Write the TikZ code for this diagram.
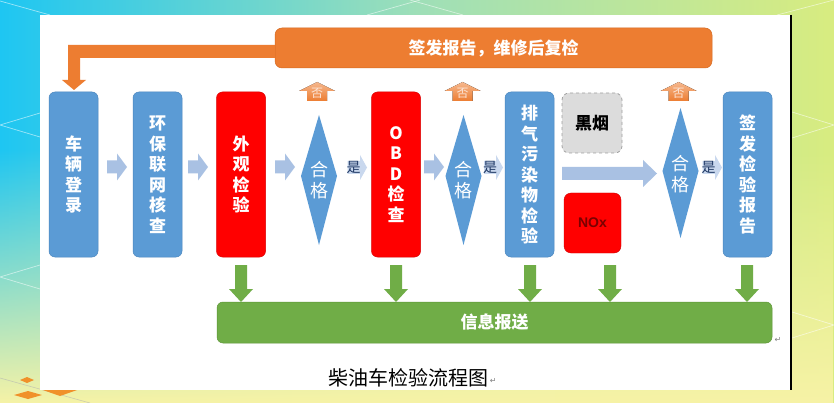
\documentclass[tikz,border=0pt]{standalone}
\usepackage{fontspec}
\setmainfont{Noto Sans CJK SC}
\newfontfamily\dejavu{DejaVu Sans}
\newfontfamily\arialf{Liberation Sans}
\usetikzlibrary{shapes.geometric,shapes.arrows,fadings,calc}
\definecolor{obl}{HTML}{5B9BD5}
\definecolor{oblb}{HTML}{4A86BE}
\definecolor{ored}{HTML}{FF0000}
\definecolor{oor}{HTML}{ED7D31}
\definecolor{oorb}{HTML}{D46A22}
\definecolor{ogr}{HTML}{70AD47}
\definecolor{ogrb}{HTML}{5E9638}
\definecolor{lbl}{HTML}{A9C1E3}
\definecolor{lbl2}{HTML}{C9D8EE}
\definecolor{navy}{HTML}{1F3864}
\definecolor{bgcyan}{HTML}{1EC6F2}
\definecolor{bgmid}{HTML}{9EDFB8}
\definecolor{bgyg}{HTML}{D8EC80}
\definecolor{bgyel}{HTML}{F7F3A6}
\definecolor{smokefill}{HTML}{DCDCDC}
\definecolor{smokeline}{HTML}{A0A0A0}
\definecolor{noxtext}{HTML}{7A0000}
\definecolor{notext}{HTML}{FCE4D6}
\newcommand\fatarr[3]{% x1 x2 y
  \fill[lbl] (#1,#3-6.5) -- (#2-10,#3-6.5) -- (#2-10,#3-13.5) -- (#2,#3)
    -- (#2-10,#3+13.5) -- (#2-10,#3+6.5) -- (#1,#3+6.5) -- cycle;}
\newcommand\downarr[1]{% x
  \fill[ogr] (#1-6,265) -- (#1+6,265) -- (#1+6,289) -- (#1+12,289) -- (#1,302)
    -- (#1-12,289) -- (#1-6,289) -- cycle;}
\newcommand\noarr[2]{% x name
  \fill[top color=oor!55!white, bottom color=oor] (#1-18,91) -- (#1,82) -- (#1+18,91)
    -- (#1+10,91) -- (#1+10,101) -- (#1-10,101) -- (#1-10,91) -- cycle;
  \node[text=notext, font=\fontsize{12}{12}\selectfont, inner sep=0pt] (#2) at (#1,93.5) {否};}
\newcommand\yesarr[3]{% xtext xtip name
  \fill[lbl2] (#1-6,161) -- (#2-7,161) -- (#2-7,155) -- (#2,167.5) -- (#2-7,180)
    -- (#2-7,174) -- (#1-6,174) -- cycle;
  \node[text=navy, font=\fontsize{14}{14}\selectfont, inner sep=0pt] (#3) at (#1,167.5) {是};}
\newcommand\diam[6]{% x top mid bottom textY name
  \fill[obl] (#1,#2) -- (#1+18,#3) -- (#1,#4) -- (#1-18,#3) -- cycle;
  \node[diatext] (#6) at (#1,#5) {合\\格};}
\tikzset{
  box/.style={rounded corners=6pt, minimum width=49pt, minimum height=165pt,
    inner sep=0pt, align=center, text=white,
    font=\bfseries\fontsize{17}{20.5}\selectfont},
  bluebox/.style={box, fill=obl, draw=oblb, line width=0.5pt},
  redbox/.style={box, fill=ored, draw=ored!85!black, line width=0.5pt},
  diatext/.style={inner sep=0pt, text=white, align=center,
    font=\fontsize{18}{21}\selectfont},
  smoke/.style={rounded corners=7pt, fill=smokefill, draw=smokeline, dashed,
    line width=0.8pt, minimum width=60pt, minimum height=60pt, inner sep=0pt,
    text=black, font=\bfseries\fontsize{17}{17}\selectfont},
  noxbox/.style={rounded corners=7pt, fill=ored, draw=ored!80!black,
    minimum width=57pt, minimum height=60pt, inner sep=0pt,
    text=noxtext, font=\arialf\bfseries\fontsize{14}{14}\selectfont},
  greenbar/.style={rounded corners=6pt, fill=ogr, draw=ogrb, line width=0.5pt,
    minimum width=555pt, minimum height=41pt, inner sep=0pt, text=white,
    font=\bfseries\fontsize{17}{17}\selectfont},
  orangebar/.style={rounded corners=7pt, fill=oor, draw=oorb, line width=0.5pt,
    minimum width=437pt, minimum height=40pt, inner sep=0pt, text=white,
    font=\bfseries\fontsize{17}{17}\selectfont},
  bgline/.style={white, opacity=0.55, line width=0.7pt},
  retmark/.style={text=gray, font=\dejavu\fontsize{8}{8}\selectfont, inner sep=0pt}
}
\begin{document}
\begin{tikzpicture}[x=1pt,y=-1pt]
\useasboundingbox (0,0) rectangle (834,403);
% background
\shade[left color=bgcyan, right color=bgyg, middle color=bgmid] (0,0) rectangle (834,403);
\fill[bgyel, path fading=north] (0,150) rectangle (834,403);
\draw[bgline] (0,1) -- (50,15);
\draw[bgline] (367,15) -- (420,0);
\draw[bgline] (410,0) -- (463,15);
\draw[bgline] (777,15) -- (834,0);
\draw[bgline] (40,113) -- (0,125) -- (40,137);
\draw[bgline] (40,265) -- (0,277) -- (40,289);
\draw[bgline] (792,112) -- (834,125) -- (792,138);
\draw[bgline] (792,312) -- (834,325) -- (792,338);
\draw[gray!60, opacity=0.6, line width=0.6pt] (0,378) -- (90,403);
% orange flowers bottom-left
\fill[oor!85!yellow] (14,395) -- (28,391) -- (42,395) -- (28,399) -- cycle;
\fill[oor!85!yellow] (20,380) -- (27,377) -- (34,380) -- (27,383) -- cycle;
\fill[oor!85!yellow] (40,389) -- (60,385) -- (80,389) -- (60,396) -- cycle;
% white panel
\fill[white] (40,15) rectangle (790,390);
\draw[black, line width=2.2pt] (791,15) -- (791,390);
% top orange bar and L-arrow
\node[orangebar] (redo) at (493.5,48) {签发报告，维修后复检};
\fill[oor] (redo.west |- 0,45) -- (68,45) -- (68,80) -- (62,80) -- (74,90) -- (86,80)
  -- (80,80) -- (80,58) -- (redo.west |- 0,58) -- cycle;
% boxes
\node[bluebox] (reg) at (73.5,174.5) {车\\辆\\登\\录};
\node[bluebox] (net) at (157.5,174.5) {环\\保\\联\\网\\核\\查};
\node[redbox] (app) at (241,174.5) {外\\观\\检\\验};
\diam{319}{115}{176}{245}{180}{q1}
\node[redbox] (obd) at (396,174.5) {O\\B\\D\\检\\查};
\diam{463.5}{115}{176}{245}{180}{q2}
\node[bluebox] (exh) at (529.5,174.5) {排\\气\\污\\染\\物\\检\\验};
\node[smoke] (smk) at (592,123) {黑烟};
\node[noxbox] (nox) at (592.5,223) {NOx};
\diam{680.5}{108}{171}{238}{174}{q3}
\node[bluebox] (rep) at (747.5,174.5) {签\\发\\检\\验\\报\\告};
% info bar
\node[greenbar] (info) at (494.5,322.5) {信息报送};
\node[retmark] (ret1) at (778,340) {↵};
% flow arrows
\fatarr{107}{127}{167}
\fatarr{188}{208}{167}
\fatarr{275}{295}{167}
\fatarr{424}{444}{167}
\fill[lbl] (562,167) -- (643,167) -- (643,160) -- (657,173.5) -- (643,187)
  -- (643,180) -- (562,180) -- cycle;
\yesarr{353.5}{367}{y1}
\yesarr{490}{503}{y2}
\yesarr{708.5}{722}{y3}
\noarr{317}{n1}
\noarr{462.5}{n2}
\noarr{678.5}{n3}
% green down arrows
\downarr{241}
\downarr{396}
\downarr{530}
\downarr{610}
\downarr{747}
% caption
\node[inner sep=0pt, text=black, font=\fontsize{20}{20}\selectfont] (cap) at (408.5,378) {柴油车检验流程图};
\node[retmark, anchor=west] (ret2) at ([xshift=1pt,yshift=-3pt]cap.east) {↵};
\end{tikzpicture}
\end{document}
